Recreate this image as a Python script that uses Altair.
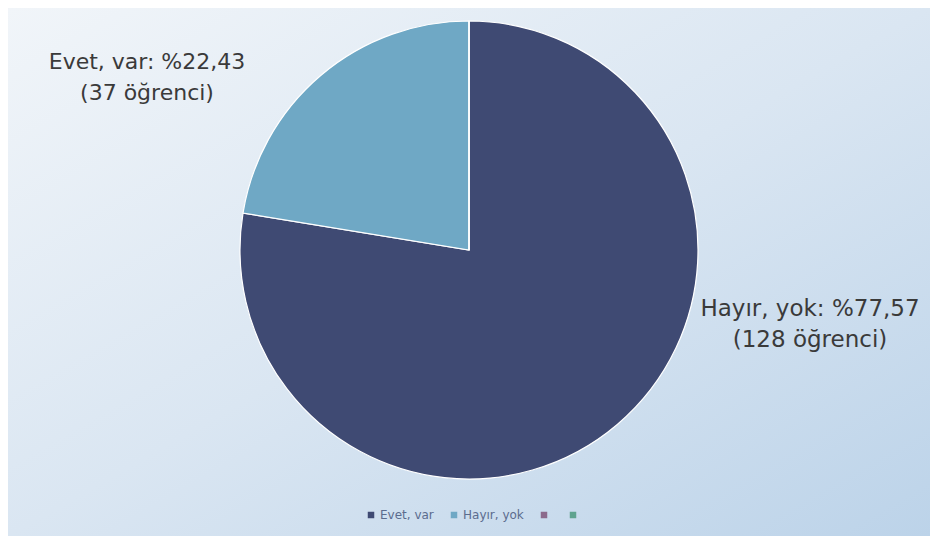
import altair as alt
import pandas as pd

# Data
categories = ["Evet, var", "Hayır, yok", "Seri 3", "Seri 4"]
counts = [128, 37, 0, 0]
colors = ["#3F4A73", "#6FA8C5", "#8C6A8C", "#5FA38F"]
label_left = ["Evet, var: %22,43", "(37 öğrenci)"]
label_right = ["Hayır, yok: %77,57", "(128 öğrenci)"]

W, H = 922, 528

pie_df = pd.DataFrame({"cat": categories, "n": counts, "ord": list(range(len(categories)))})

bg = alt.Chart(pd.DataFrame({"a": [0]})).mark_rect(
    color=alt.Gradient(
        gradient="linear",
        stops=[alt.GradientStop(color="#F1F5F9", offset=0),
               alt.GradientStop(color="#DAE6F2", offset=0.5),
               alt.GradientStop(color="#BCD3E9", offset=1)],
        x1=0, y1=0, x2=1, y2=1,
    )
).encode(x=alt.value(0), x2=alt.value(W), y=alt.value(0), y2=alt.value(H))

pie = alt.Chart(pie_df).mark_arc(radius=229, stroke="white", strokeWidth=1.2).encode(
    theta=alt.Theta("n:Q", stack=True),
    order=alt.Order("ord:Q"),
    color=alt.Color(
        "cat:N",
        scale=alt.Scale(domain=categories, range=colors),
        legend=alt.Legend(
            title=None,
            orient="none",
            direction="horizontal",
            legendX=357,
            legendY=501,
            symbolType="square",
            symbolSize=42,
            symbolStrokeWidth=0,
            labelFont="DejaVu Sans",
            labelFontSize=12,
            labelColor="#5B6C8E",
            columnPadding=14,
            labelOffset=3,
            labelExpr="indexof(['Evet, var','Hayır, yok'], datum.label) >= 0 ? datum.label : ''",
        ),
    ),
    x=alt.value(461),
    y=alt.value(242),
)

def label(lines, x, y, size):
    df = pd.DataFrame({"t": ["\n".join(lines)]})
    return alt.Chart(df).mark_text(
        font="DejaVu Sans", fontSize=size, color="#3A3A3A",
        lineBreak="\n", lineHeight=31, align="center", baseline="middle",
    ).encode(text="t:N", x=alt.value(x), y=alt.value(y))

chart = alt.layer(
    bg, pie,
    label(label_left, 139, 54, 22),
    label(label_right, 802, 301, 23),
).properties(
    width=W, height=H, padding=0, autosize=alt.AutoSizeParams(type="none")
).configure_view(stroke=None)

chart.save("out.html", embed_options={"renderer": "svg", "actions": False})
